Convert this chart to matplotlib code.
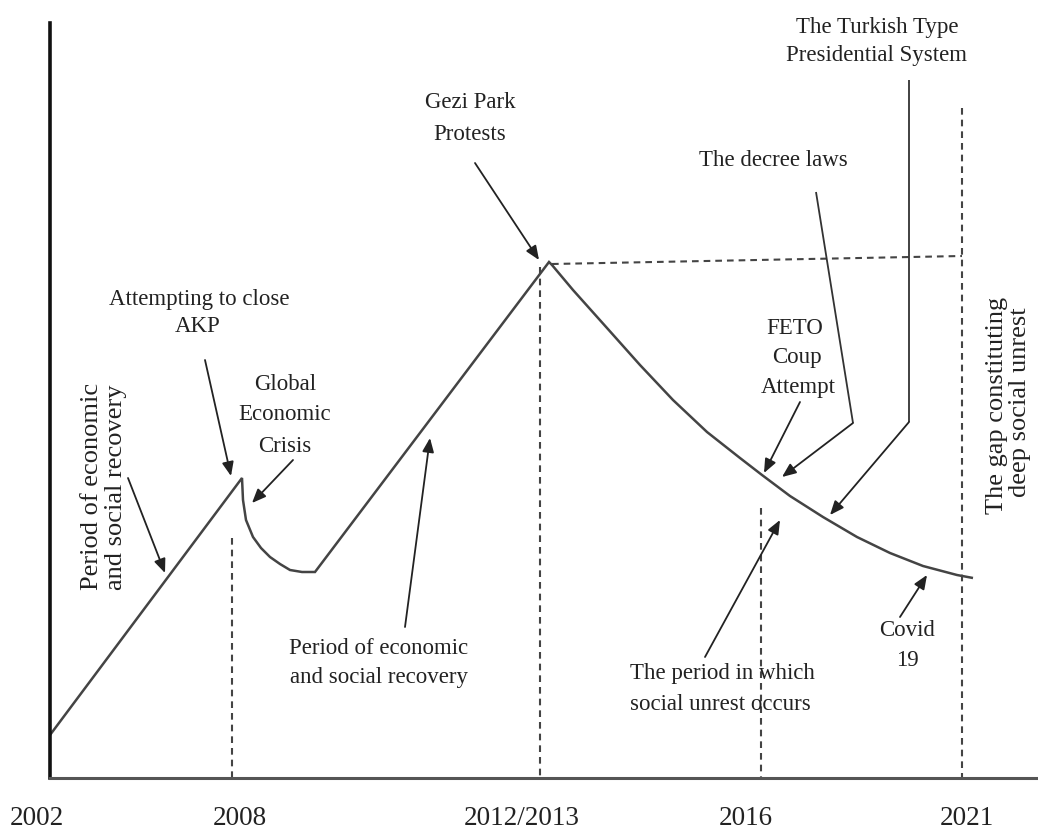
import matplotlib
matplotlib.use("Agg")
import matplotlib.pyplot as plt
from matplotlib.patches import ArrowStyle

plt.rcParams['font.family'] = ['Liberation Serif', 'DejaVu Serif']

# ---- data (schematic units: x = position along the time axis, y = level) ----
tick_labels = ["2002", "2008", "2012/2013", "2016", "2021"]
tick_pos = [-13, 190, 472, 696, 917]

curve_x = [0, 192, 193, 196, 203, 211, 220, 230, 240, 252, 265,
           499, 502, 523, 557, 590, 623, 657, 690, 712, 740, 773, 807,
           840, 873, 907, 923]
curve_y = [43, 300, 278, 258, 241, 230, 221, 214, 208, 206, 206,
           516, 513, 488, 450, 413, 378, 346, 320, 303, 282, 261, 241,
           225, 212, 203, 200]

# dashed guide lines: (x0, y0, x1, y1)
guide_x0 = [182, 490, 711, 912, 502]
guide_y0 = [240, 511, 270, 670, 514]
guide_x1 = [182, 490, 711, 912, 912]
guide_y1 = [0, 0, 0, 0, 522]

# labels: text, x, y, rotation
label_text = ["Period of economic", "and social recovery",
              "Attempting to close", "AKP",
              "Global", "Economic", "Crisis",
              "Period of economic", "and social recovery",
              "Gezi Park", "Protests",
              "The decree laws",
              "FETO", "Coup", "Attempt",
              "The Turkish Type", "Presidential System",
              "The period in which", "social unrest occurs",
              "Covid", "19",
              "The gap constituting", "deep social unrest"]
label_x = [42, 66, 149, 148, 235, 235, 235, 329, 329, 420, 420, 723,
           745, 747, 748, 827, 827, 672, 670, 857, 857, 947, 970]
label_y = [292, 291, 478, 451, 393, 363, 331, 130, 100, 675, 643, 618,
           450, 420, 390, 751, 723, 105, 74, 148, 118, 373, 376]
label_rot = [90, 90, 0, 0, 0, 0, 0, 0, 0, 0, 0, 0,
             0, 0, 0, 0, 0, 0, 0, 0, 0, 90, 90]

# arrows: polyline points, last point is the arrow tip
arrow_paths = [
    [(78, 300), (115, 205)],
    [(155, 418), (181, 302)],
    [(243, 318), (202, 275)],
    [(355, 151), (380, 340)],
    [(425, 615), (489, 518)],
    [(766, 586), (803, 355), (732, 301)],
    [(750, 376), (714, 305)],
    [(859, 698), (859, 356), (780, 263)],
    [(655, 121), (730, 258)],
    [(850, 161), (877, 203)],
]

# ---- drawing ----
fig = plt.figure(figsize=(10.38, 8.32), dpi=100)
ax = fig.add_axes([0, 0, 1, 1])
ax.set_xlim(-50, 988)
ax.set_ylim(-54, 778)

for s in ("top", "right"):
    ax.spines[s].set_visible(False)
ax.spines["left"].set_position(("data", 0))
ax.spines["left"].set_bounds(0, 755)
ax.spines["left"].set_linewidth(2.6)
ax.spines["left"].set_color("#111111")
ax.spines["bottom"].set_position(("data", 0))
ax.spines["bottom"].set_bounds(0, 988)
ax.spines["bottom"].set_linewidth(2.2)
ax.spines["bottom"].set_color("#555555")

ax.set_yticks([])
ax.set_xticks(tick_pos, tick_labels)
ax.tick_params(axis="x", length=0, pad=20.5, labelsize=19.5, labelcolor="#222222")

ax.plot(curve_x, curve_y, color="#444444", lw=1.8, solid_joinstyle="miter",
        solid_capstyle="butt")

for x0, y0, x1, y1 in zip(guide_x0, guide_y0, guide_x1, guide_y1):
    ax.plot([x0, x1], [y0, y1], color="#444444", lw=1.5,
            linestyle=(0, (3.2, 2.4)))

for t, x, y, r in zip(label_text, label_x, label_y, label_rot):
    ax.text(x, y, t, ha="center", va="center", rotation=r,
            fontsize=19 if r else 16.5, color="#222222")

head = ArrowStyle("-|>", head_length=0.6, head_width=0.25)
for pts in arrow_paths:
    if len(pts) > 2:
        xs = [p[0] for p in pts[:-1]]
        ys = [p[1] for p in pts[:-1]]
        ax.plot(xs, ys, color="#333333", lw=1.3, solid_capstyle="butt")
    ax.annotate("", xy=pts[-1], xytext=pts[-2],
                arrowprops=dict(arrowstyle=head, color="#222222", lw=1.3,
                                mutation_scale=14, shrinkA=0, shrinkB=0))

fig.savefig("out.png", dpi=100, facecolor="white")
